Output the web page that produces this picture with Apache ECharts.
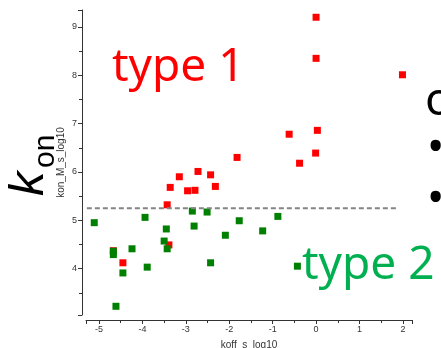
<!DOCTYPE html>
<html>
<head>
<meta charset="utf-8">
<script src="https://cdn.jsdelivr.net/npm/echarts@6/dist/echarts.min.js"></script>
<style>
  html, body { margin: 0; padding: 0; background: #fff; }
  #chart { width: 441px; height: 348px; }
</style>
</head>
<body>
<div id="chart"></div>
<script>
// type 1 points (red)
const type1Koff = [0.00, 0.00, 1.99, 0.03, -0.62, -0.01, -0.38, -1.82, -3.15, -2.72, -2.43, -3.36, -2.96, -2.79, -2.32, -3.43, -3.39, -4.67, -4.45];
const type1Kon  = [9.20, 8.35, 8.01, 6.86, 6.78, 6.39, 6.18, 6.30, 5.90, 6.01, 5.94, 5.68, 5.61, 5.62, 5.70, 5.32, 4.49, 4.37, 4.12];

// type 2 points (green)
const type2Koff = [-5.11, -4.67, -4.67, -4.61, -4.45, -4.24, -3.94, -3.89, -3.50, -3.45, -3.43, -2.85, -2.81, -2.51, -2.43, -2.09, -1.77, -1.23, -0.88, -0.43];
const type2Kon  = [4.95, 4.36, 4.29, 3.22, 3.91, 4.41, 5.06, 4.03, 4.57, 4.82, 4.41, 5.19, 4.88, 5.17, 4.12, 4.69, 4.99, 4.78, 5.08, 4.05];

// dashed threshold
const thresholdKoff = [-5.28, 1.86];
const thresholdKon = 5.25;

const zip = (xs, ys) => xs.map((x, i) => [x, ys[i]]);

const chart = echarts.init(document.getElementById('chart'), null, { renderer: 'canvas' });

const axisColor = '#333';
const intLabel = v => (Math.abs(v - Math.round(v)) < 1e-9 ? String(Math.round(v)) : '');

const option = {
    animation: false,
    textStyle: { fontFamily: 'Liberation Sans' },
    grid: { left: 86, right: 29, top: 10, bottom: 33, outerBoundsMode: 'none' },
    xAxis: {
        type: 'value',
        min: -5.3,
        max: 2.21,
        splitNumber: 8,
        offset: 5,
        name: 'koff_s_log10',
        nameLocation: 'middle',
        nameGap: 20,
        nameMoveOverlap: false,
        nameTextStyle: { fontSize: 10, color: axisColor },
        axisLine: { show: true, onZero: false, lineStyle: { color: axisColor, width: 1 } },
        axisTick: { show: true, inside: false, length: 4, lineStyle: { color: axisColor } },
        minorTick: { show: true, splitNumber: 2, length: 3, lineStyle: { color: axisColor } },
        axisLabel: { fontSize: 9, color: axisColor, margin: 5, formatter: intLabel },
        splitLine: { show: false }
    },
    yAxis: {
        type: 'value',
        min: 3.04,
        max: 9.35,
        splitNumber: 6,
        offset: 4,
        name: 'kon_M_s_log10',
        nameLocation: 'middle',
        nameGap: 16,
        nameMoveOverlap: false,
        nameTextStyle: { fontSize: 10, color: axisColor },
        axisLine: { show: true, onZero: false, lineStyle: { color: axisColor, width: 1 } },
        axisTick: { show: true, inside: false, length: 4, lineStyle: { color: axisColor } },
        minorTick: { show: true, splitNumber: 2, length: 3, lineStyle: { color: axisColor } },
        axisLabel: { fontSize: 9, color: axisColor, margin: 5, formatter: intLabel },
        splitLine: { show: false }
    },
    series: [
        {
            type: 'line',
            data: thresholdKoff.map(x => [x, thresholdKon]),
            symbol: 'none',
            silent: true,
            lineStyle: { color: '#858585', width: 2, type: [5, 3] }
        },
        {
            name: 'type 1',
            type: 'scatter',
            data: zip(type1Koff, type1Kon),
            symbol: 'rect',
            symbolSize: 7,
            itemStyle: { color: '#ff0000', opacity: 1 }
        },
        {
            name: 'type 2',
            type: 'scatter',
            data: zip(type2Koff, type2Kon),
            symbol: 'rect',
            symbolSize: 7,
            itemStyle: { color: '#008000', opacity: 1 }
        }
    ],
    graphic: [
        {
            type: 'text', x: 112, y: 68,
            style: { text: 'type 1', font: '46px "Noto Sans"', fill: '#ff0000', textAlign: 'left', textVerticalAlign: 'middle' }
        },
        {
            type: 'text', x: 302, y: 266, z: 10,
            style: { text: 'type 2', font: '46px "Noto Sans"', fill: '#00b050', textAlign: 'left', textVerticalAlign: 'middle' }
        },
        {
            type: 'text', x: 425, y: 102,
            style: { text: 'o', font: '46px "Noto Sans"', fill: '#000', textAlign: 'left', textVerticalAlign: 'middle' }
        },
        {
            type: 'text', x: 427, y: 149,
            style: { text: '\u2022', font: '46px "Noto Sans"', fill: '#000', textAlign: 'left', textVerticalAlign: 'middle' }
        },
        {
            type: 'text', x: 427, y: 200,
            style: { text: '\u2022', font: '46px "Noto Sans"', fill: '#000', textAlign: 'left', textVerticalAlign: 'middle' }
        },
        {
            type: 'text', x: 29, y: 196, rotation: Math.PI / 2,
            style: { text: 'k', font: 'italic 49px "Liberation Sans"', fill: '#000', textAlign: 'left', textVerticalAlign: 'middle' }
        },
        {
            type: 'text', x: 46, y: 168, rotation: Math.PI / 2,
            style: { text: 'on', font: '30px "Liberation Sans"', fill: '#000', textAlign: 'left', textVerticalAlign: 'middle' }
        }
    ]
};

chart.setOption(option);
</script>
</body>
</html>
